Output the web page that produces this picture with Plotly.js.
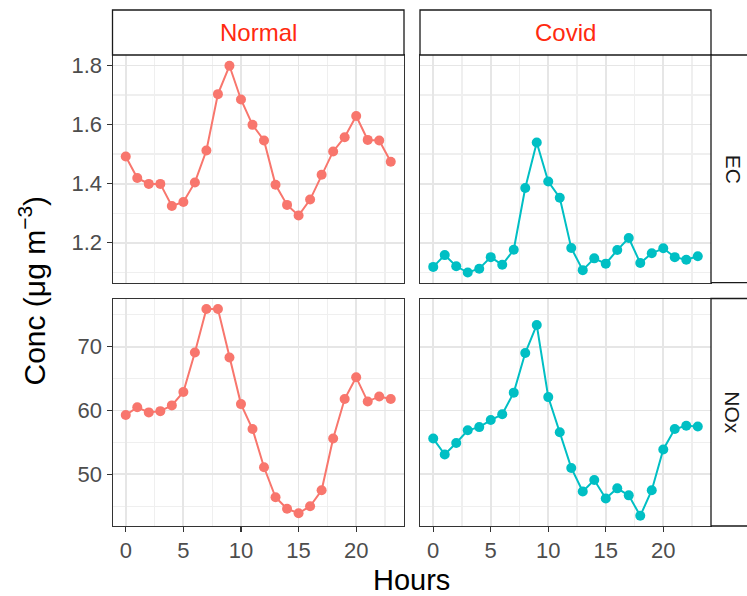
<!DOCTYPE html>
<html>
<head>
<meta charset="utf-8">
<script src="https://cdn.plot.ly/plotly-3.0.1.min.js"></script>
<style>html,body{margin:0;padding:0;background:#fff;}#chart{width:747px;height:596px;}</style>
</head>
<body>
<div id="chart"></div>
<script>
const hours = [0,1,2,3,4,5,6,7,8,9,10,11,12,13,14,15,16,17,18,19,20,21,22,23];
const periods = ["Normal", "Covid"];
const pollutants = ["EC", "NOx"];
const normalEC = [1.492,1.419,1.399,1.399,1.324,1.338,1.404,1.512,1.703,1.799,1.685,1.599,1.546,1.396,1.328,1.292,1.346,1.430,1.509,1.557,1.629,1.548,1.546,1.474];
const covidEC  = [1.118,1.158,1.120,1.099,1.112,1.151,1.125,1.176,1.385,1.539,1.407,1.352,1.182,1.107,1.147,1.129,1.175,1.216,1.131,1.164,1.181,1.151,1.142,1.154];
const normalNOx = [59.3,60.5,59.7,59.9,60.8,62.9,69.1,75.9,75.9,68.3,61.0,57.1,51.1,46.4,44.6,43.9,45.0,47.5,55.6,61.8,65.2,61.4,62.2,61.8];
const covidNOx  = [55.6,53.1,54.9,56.9,57.4,58.5,59.4,62.8,69.0,73.4,62.1,56.6,51.0,47.3,49.1,46.2,47.8,46.7,43.5,47.5,53.9,57.1,57.6,57.5];
const xTicks = [0,5,10,15,20];
const ecTicks = [1.2,1.4,1.6,1.8];
const noxTicks = [50,60,70];

const colors = {Normal: "#F8766D", Covid: "#00BFC4"};
const W = 747, H = 596;
const px = v => v / W;
const py = v => 1 - v / H;

const colL = [112.5, 404], colR = [420, 711];
const rowT = [55, 282.7], rowB = [298.5, 526];

function tr(y, period, xa, ya) {
  return {x: hours, y: y, xaxis: xa, yaxis: ya, type: "scatter", mode: "lines+markers",
    line: {color: colors[period], width: 2}, marker: {color: colors[period], size: 10},
    showlegend: false, hoverinfo: "skip"};
}
const data = [
  tr(normalEC, "Normal", "x", "y"),
  tr(covidEC, "Covid", "x2", "y2"),
  tr(normalNOx, "Normal", "x3", "y3"),
  tr(covidNOx, "Covid", "x4", "y4")
];

const font = "Liberation Sans, Arial, sans-serif";
const gridMajor = "#E6E6E6", gridMinor = "#EFEFEF";
function xax(dom, anchor, labels) {
  return {domain: [px(dom[0]), px(dom[1])], anchor: anchor, range: [-1.15, 24.15],
    tickvals: xTicks, ticktext: xTicks.map(String), showticklabels: labels,
    ticks: labels ? "outside" : "", ticklen: 5, tickwidth: 1.1, tickcolor: "#333333",
    tickfont: {family: font, size: 22, color: "#4D4D4D"},
    showgrid: true, gridcolor: gridMajor, gridwidth: 1.8,
    minor: {tick0: 2.5, dtick: 5, showgrid: true, gridcolor: gridMinor, gridwidth: 1.2, ticks: ""},
    showline: true, mirror: true, linecolor: "#333333", linewidth: 1, zeroline: false, fixedrange: true};
}
function yax(dom, anchor, range, ticks, minorTick0, minorD, labels) {
  return {domain: [py(dom[1]), py(dom[0])], anchor: anchor, range: range,
    tickvals: ticks, ticktext: ticks.map(v => String(v)), showticklabels: labels,
    ticks: labels ? "outside" : "", ticklen: 5, tickwidth: 1.1, tickcolor: "#333333",
    tickfont: {family: font, size: 22, color: "#4D4D4D"},
    showgrid: true, gridcolor: gridMajor, gridwidth: 1.8,
    minor: {tick0: minorTick0, dtick: minorD, showgrid: true, gridcolor: gridMinor, gridwidth: 1.2, ticks: ""},
    showline: true, mirror: true, linecolor: "#333333", linewidth: 1, zeroline: false, fixedrange: true};
}
const ecRange = [1.0645, 1.8355], noxRange = [41.9, 77.55];

const shapes = [];
function rect(x0, x1, y0, y1) {
  shapes.push({type: "rect", xref: "paper", yref: "paper", x0: px(x0), x1: px(x1), y0: py(y1), y1: py(y0),
    fillcolor: "#FFFFFF", line: {color: "#1A1A1A", width: 1.3}, layer: "above"});
}
rect(colL[0], colL[1], 10, rowT[0]);
rect(colR[0], colR[1], 10, rowT[0]);
rect(colR[1], 770, rowT[0], rowT[1]);
rect(colR[1], 770, rowB[0], rowB[1]);

function ann(text, x, y, size, color, angle) {
  return {text: text, x: px(x), y: py(y), xref: "paper", yref: "paper", showarrow: false,
    xanchor: "center", yanchor: "middle", textangle: angle || 0,
    font: {family: font, size: size, color: color}};
}
const annotations = [
  ann(periods[0], (colL[0] + colL[1]) / 2, 33, 24, "#FF2A10"),
  ann(periods[1], (colR[0] + colR[1]) / 2, 33, 24, "#FF2A10"),
  ann(pollutants[0], 733, (rowT[0] + rowT[1]) / 2, 21, "#1A1A1A", 90),
  ann(pollutants[1], 733, (rowB[0] + rowB[1]) / 2, 21, "#1A1A1A", 90),
  ann("Hours", 411.5, 580, 29, "#000000"),
  ann("Conc (μg m<sup>−3</sup>)", 33, 290.5, 30, "#000000", -90)
];

const layout = {
  width: W, height: H, margin: {l: 0, r: 0, t: 0, b: 0},
  paper_bgcolor: "#FFFFFF", plot_bgcolor: "#FFFFFF", showlegend: false,
  xaxis: xax(colL, "y", false),
  xaxis2: xax(colR, "y2", false),
  xaxis3: xax(colL, "y3", true),
  xaxis4: xax(colR, "y4", true),
  yaxis: yax(rowT, "x", ecRange, ecTicks, 1.1, 0.2, true),
  yaxis2: yax(rowT, "x2", ecRange, ecTicks, 1.1, 0.2, false),
  yaxis3: yax(rowB, "x3", noxRange, noxTicks, 45, 10, true),
  yaxis4: yax(rowB, "x4", noxRange, noxTicks, 45, 10, false),
  shapes: shapes, annotations: annotations
};
Plotly.newPlot("chart", data, layout, {displayModeBar: false, staticPlot: true});
</script>
</body>
</html>
